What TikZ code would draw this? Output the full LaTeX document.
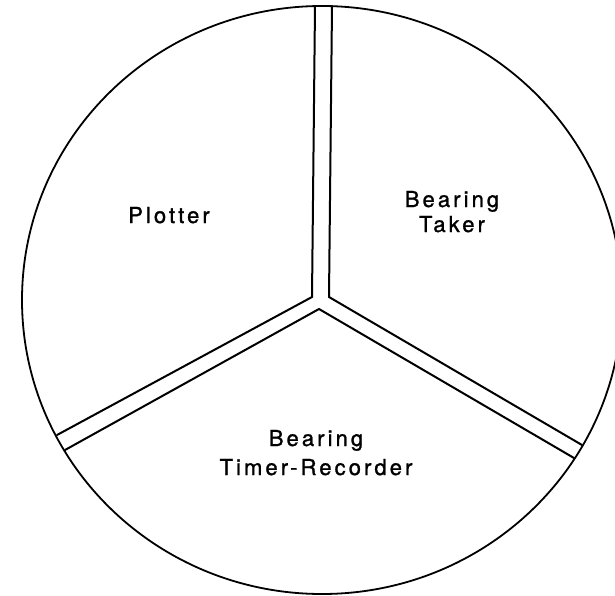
\documentclass[tikz,border=0pt]{standalone}
\usepackage{fontspec}
\setmainfont{TeX Gyre Heros}
\usetikzlibrary{shapes.geometric}
\tikzset{
  rim/.style={draw=black, line width=1.8pt, ellipse, inner sep=0pt, minimum width=600pt, minimum height=588pt},
  wall/.style={draw=black, line width=2pt, line cap=round},
  lbl/.style={font=\fontsize{22}{29}\selectfont\addfontfeature{LetterSpace=14,FakeBold=1.2}, align=center, inner sep=0pt, text=black}
}
\begin{document}
\begin{tikzpicture}[x=1pt,y=-1pt]
\useasboundingbox (0,0) rectangle (615,596);
\clip (0,0) rectangle (615,596);
\fill[white] (0,0) rectangle (615,596);
\node[rim] (disc) at (322,300) {};
% Y-shaped double-line divider
\coordinate (vlt) at (315,6);
\coordinate (vrt) at (332,6);
\coordinate (jl) at (312,297);
\coordinate (jr) at (329,297);
\coordinate (jb) at (319,309);
\coordinate (lu) at (57,435);
\coordinate (ll) at (65,450);
\coordinate (ru) at (582,445);
\coordinate (rl) at (574,458);
\draw[wall] (vlt) -- (jl) -- (lu);
\draw[wall] (vrt) -- (jr) -- (ru);
\draw[wall] (ll) -- (jb) -- (rl);
% labels
\node[lbl, anchor=base] (plotter) at (169,223) {Plotter};
\node[lbl, anchor=base] (taker1) at (452,207) {Bearing};
\node[lbl, anchor=base] (taker2) at (452,232) {Taker};
\node[lbl, anchor=base] (timer1) at (316,446) {Bearing};
\node[lbl, anchor=base] (timer2) at (316,475) {Timer-Recorder};
\end{tikzpicture}
\end{document}
